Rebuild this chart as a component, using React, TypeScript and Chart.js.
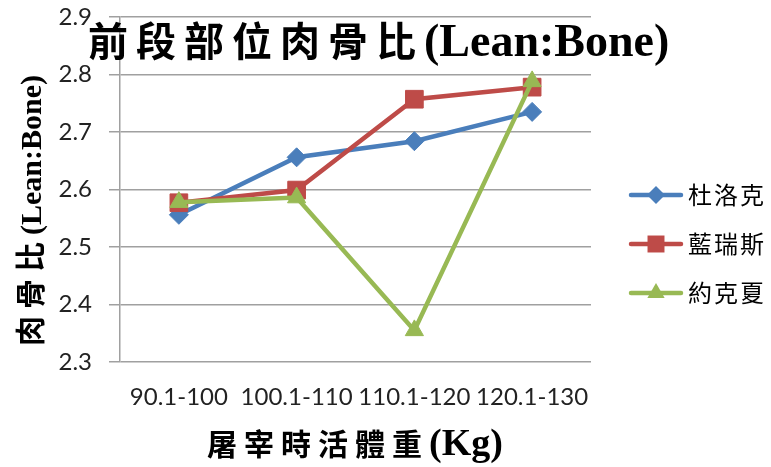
import React, { useEffect, useRef } from 'react';
import { Chart, registerables } from 'chart.js';

Chart.register(...registerables);

// Live-weight classes at slaughter (kg)
const weightClasses = ['90.1-100', '100.1-110', '110.1-120', '120.1-130'];

// Lean:bone ratio of the fore section for each breed
const durocValues = [2.556, 2.656, 2.684, 2.735];
const landraceValues = [2.577, 2.599, 2.757, 2.778];
const yorkshireValues = [2.578, 2.586, 2.355, 2.788];

const breedNames = ['杜洛克', '藍瑞斯', '約克夏'];
const breedColors = ['#4A7EBB', '#BE4B48', '#98B954'];
const breedMarkers = ['rectRot', 'rect', 'triangle'];

const yMin = 2.3;
const yMax = 2.9;
const yStep = 0.1;

const titleCjk = '前段部位肉骨比';
const titleLatin = '(Lean:Bone)';
const yTitleCjk = '肉骨比';
const yTitleLatin = '(Lean:Bone)';
const xTitleCjk = '屠宰時活體重';
const xTitleLatin = '(Kg)';

const CJK_FONT = "'Noto Sans CJK TC', 'Noto Sans CJK SC', sans-serif";
const SERIF_FONT = "'Liberation Serif', 'DejaVu Serif', serif";
const TICK_FONT = 'Lato, "Open Sans", sans-serif';

type Run = { text: string; font: string; spacing: number };

// Draws consecutive text runs along the baseline starting at (0, 0)
function drawRuns(ctx: CanvasRenderingContext2D, runs: Run[]) {
  let x = 0;
  for (const r of runs) {
    ctx.font = r.font;
    (ctx as any).letterSpacing = `${r.spacing}px`;
    ctx.fillText(r.text, x, 0);
    x += ctx.measureText(r.text).width;
  }
  (ctx as any).letterSpacing = '0px';
}

function drawMarker(ctx: CanvasRenderingContext2D, kind: string, x: number, y: number, r: number) {
  ctx.beginPath();
  if (kind === 'rectRot') {
    ctx.moveTo(x, y - r);
    ctx.lineTo(x + r, y);
    ctx.lineTo(x, y + r);
    ctx.lineTo(x - r, y);
  } else if (kind === 'rect') {
    const s = r * Math.SQRT1_2;
    ctx.rect(x - s, y - s, 2 * s, 2 * s);
  } else {
    ctx.moveTo(x, y - r);
    ctx.lineTo(x + r * Math.sin(Math.PI / 3), y + r / 2);
    ctx.lineTo(x - r * Math.sin(Math.PI / 3), y + r / 2);
  }
  ctx.closePath();
  ctx.fill();
}

function markerRadius(kind: string) {
  if (kind === 'rect') return 12.5;
  if (kind === 'triangle') return 10.5;
  return 9.5;
}

const textOverlay = {
  id: 'textOverlay',
  afterDraw(chart: Chart) {
    const ctx = chart.ctx;
    ctx.save();
    ctx.fillStyle = '#000';
    ctx.textBaseline = 'alphabetic';
    ctx.textAlign = 'left';

    // chart title
    ctx.save();
    ctx.translate(88, 56);
    drawRuns(ctx, [
      { text: titleCjk, font: `bold 40px ${CJK_FONT}`, spacing: 8 },
      { text: titleLatin, font: `bold 46px ${SERIF_FONT}`, spacing: 0 },
    ]);
    ctx.restore();

    // y axis title (reads bottom to top)
    ctx.save();
    ctx.translate(41, 346);
    ctx.rotate(-Math.PI / 2);
    drawRuns(ctx, [
      { text: yTitleCjk, font: `bold 30px ${CJK_FONT}`, spacing: 7 },
      { text: yTitleLatin, font: `bold 30px ${SERIF_FONT}`, spacing: 0 },
    ]);
    ctx.restore();

    // x axis title
    ctx.save();
    ctx.translate(207, 455);
    drawRuns(ctx, [
      { text: xTitleCjk, font: `bold 30px ${CJK_FONT}`, spacing: 7 },
      { text: xTitleLatin, font: `bold 38px ${SERIF_FONT}`, spacing: 0 },
    ]);
    ctx.restore();

    // legend
    const legendTop = 195;
    const legendGap = 49;
    breedNames.forEach((name, i) => {
      const y = legendTop + i * legendGap;
      ctx.strokeStyle = breedColors[i];
      ctx.lineWidth = 4.5;
      ctx.lineCap = 'round';
      ctx.beginPath();
      ctx.moveTo(631, y);
      ctx.lineTo(681, y);
      ctx.stroke();
      ctx.fillStyle = breedColors[i];
      drawMarker(ctx, breedMarkers[i], 656, y, markerRadius(breedMarkers[i]) - 0.5);
      ctx.fillStyle = '#000';
      ctx.font = `24px ${CJK_FONT}`;
      (ctx as any).letterSpacing = '2px';
      ctx.textBaseline = 'middle';
      ctx.fillText(name, 688, y);
      (ctx as any).letterSpacing = '0px';
      ctx.textBaseline = 'alphabetic';
    });

    ctx.restore();
  },
};

export default function App() {
  const canvasRef = useRef<HTMLCanvasElement | null>(null);

  useEffect(() => {
    const canvas = canvasRef.current;
    if (!canvas) return;
    const seriesValues = [durocValues, landraceValues, yorkshireValues];
    const chart = new Chart(canvas, {
      type: 'line',
      data: {
        labels: weightClasses,
        datasets: breedNames.map((name, i) => ({
          label: name,
          data: seriesValues[i],
          borderColor: breedColors[i],
          backgroundColor: breedColors[i],
          borderWidth: 4.5,
          pointStyle: breedMarkers[i] as any,
          pointRadius: markerRadius(breedMarkers[i]),
          pointBorderWidth: 1,
          tension: 0,
          fill: false,
          order: 2 - i,
        })),
      },
      options: {
        animation: false,
        responsive: true,
        maintainAspectRatio: false,
        layout: { padding: { left: 0, top: 17, right: 180, bottom: 0 } },
        plugins: {
          legend: { display: false },
          title: { display: false },
          tooltip: { enabled: false },
        },
        scales: {
          x: {
            offset: true,
            grid: { display: false, drawTicks: false },
            border: { display: false },
            ticks: {
              padding: 21,
              color: '#222',
              font: { family: TICK_FONT, size: 24 },
              maxRotation: 0,
              autoSkip: false,
            },
            afterFit(scale: any) {
              scale.height = 105;
            },
          },
          y: {
            min: yMin,
            max: yMax,
            grid: { color: '#a0a0a0', lineWidth: 1.5, tickLength: 11, drawTicks: true },
            border: { display: true, color: '#a0a0a0', width: 1.5 },
            ticks: {
              stepSize: yStep,
              padding: 17,
              color: '#222',
              font: { family: TICK_FONT, size: 24 },
              callback: (v: any) => Number(v).toFixed(1),
            },
            afterFit(scale: any) {
              scale.width = 120;
              // keep the label padding from pushing the plot area down
              scale.paddingTop = 0;
              scale.paddingBottom = 0;
            },
          },
        },
      },
      plugins: [textOverlay],
    });
    return () => chart.destroy();
  }, []);

  return (
    <div style={{ position: 'absolute', left: 0, top: 0, width: 771, height: 467, background: '#fff' }}>
      <canvas ref={canvasRef} />
    </div>
  );
}
